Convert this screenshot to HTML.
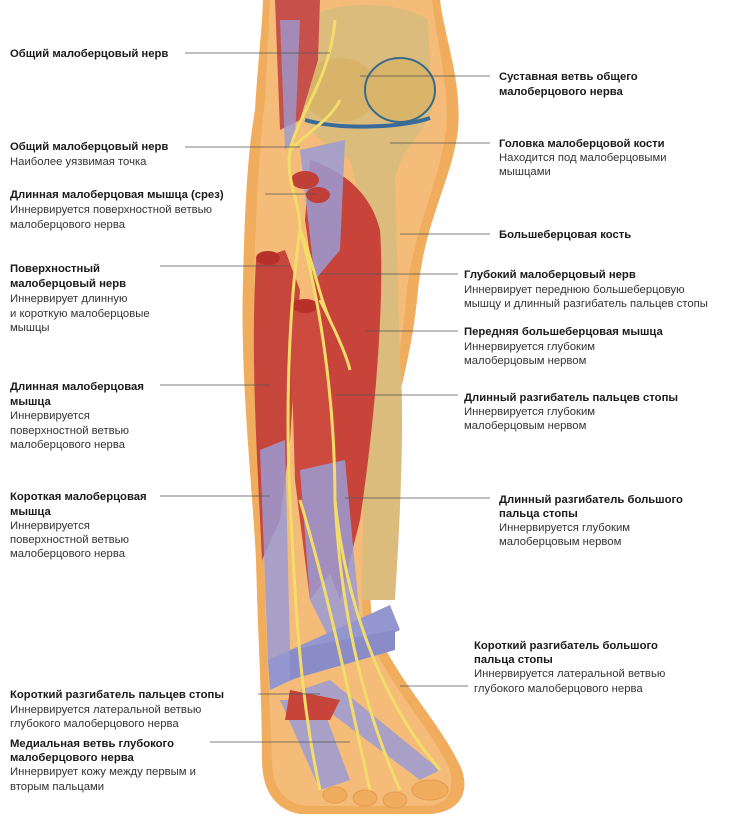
<!DOCTYPE html>
<html><head><meta charset="utf-8"><style>
html,body{margin:0;padding:0;background:#fff;}
svg{display:block;}
text{font-family:"Liberation Sans",sans-serif;font-size:11.3px;fill:#333;}
.b{font-weight:bold;fill:#1a1a1a;}
line{stroke:#555;stroke-width:0.8;}
</style></head><body>
<svg width="730" height="828" viewBox="0 0 730 828" xmlns="http://www.w3.org/2000/svg">
<!-- skin -->
<path d="M263,0 L440,0 C445,40 462,80 458,130 C452,180 425,220 418,290 C412,360 392,420 378,480 C370,540 368,580 372,620 C395,680 440,720 462,770 C470,795 458,812 430,814 L300,814 C275,810 262,790 262,760 C262,700 258,640 256,560 C252,480 240,380 243,280 C245,200 248,150 255,110 C258,60 262,30 263,0 Z" fill="#f0ad5e"/>
<path d="M270,0 L432,0 C438,50 450,90 446,130 C438,190 412,230 406,300 C400,370 382,430 370,490 C362,550 360,590 364,625 C390,690 430,725 450,770 C455,795 445,805 425,806 L305,806 C282,802 272,785 272,760 C270,700 266,640 264,560 C260,470 252,380 254,280 C256,200 260,140 265,100 Z" fill="#f4bc78"/>
<!-- bones -->
<path d="M305,20 C330,0 400,0 428,20 L432,110 C420,140 400,150 395,180 L400,360 C405,420 400,520 395,600 L362,600 L365,360 C362,250 360,190 350,160 C320,140 300,130 300,90 Z" fill="#dcbc7c"/>
<ellipse cx="340" cy="90" rx="38" ry="32" fill="#d8b36a"/>
<ellipse cx="400" cy="90" rx="35" ry="32" fill="#d9b56c" stroke="#3a6a8a" stroke-width="2"/>
<path d="M305,120 C340,130 400,128 430,118" stroke="#3a6a9a" stroke-width="4" fill="none"/>
<!-- top muscles -->
<path d="M275,0 L320,0 L318,60 L300,120 L280,130 Z" fill="#c8504a"/>
<path d="M280,20 L300,20 L295,140 L285,150 Z" fill="#9a9ad0" opacity="0.8"/>
<!-- tibialis anterior -->
<path d="M310,160 C340,170 370,190 380,230 C385,300 375,420 360,520 L340,600 L325,560 C330,450 320,320 305,220 Z" fill="#c8443a"/>
<path d="M300,150 L345,140 L340,250 L315,280 Z" fill="#9a9bd4" opacity="0.85"/>
<!-- peroneus longus -->
<path d="M256,260 L285,250 L300,290 L290,440 L280,520 L262,560 C258,470 250,360 256,260 Z" fill="#c6463c"/>
<ellipse cx="268" cy="258" rx="12" ry="7" fill="#b8302a"/>
<path d="M260,450 L285,440 L290,650 L268,660 Z" fill="#9a9bd4" opacity="0.85"/>
<!-- extensor muscles -->
<path d="M290,310 L320,300 L335,420 L340,560 L310,600 L295,480 Z" fill="#cc4a3e"/>
<ellipse cx="305" cy="306" rx="13" ry="7" fill="#b8302a"/>
<path d="M300,470 L345,460 L360,620 L330,640 L310,600 Z" fill="#9a9bd4" opacity="0.85"/>
<!-- cut muscles -->
<ellipse cx="305" cy="180" rx="14" ry="9" fill="#c04038"/>
<ellipse cx="318" cy="195" rx="12" ry="8" fill="#c04038"/>
<!-- retinaculum -->
<path d="M268,660 L390,605 L400,630 L270,690 Z" fill="#9496d0"/>
<path d="M290,650 L395,630 L395,650 L290,680 Z" fill="#8a8cc8"/>
<!-- foot tendons -->
<path d="M300,690 L330,680 L440,770 L420,780 Z" fill="#9a9bd4" opacity="0.85"/>
<path d="M280,700 L320,700 L350,780 L320,790 Z" fill="#9a9bd4" opacity="0.85"/>
<path d="M290,690 L340,700 L330,720 L285,720 Z" fill="#c8443a"/>
<!-- toes -->
<ellipse cx="335" cy="795" rx="12" ry="8" fill="#f0ad5e" stroke="#e59a50"/>
<ellipse cx="365" cy="798" rx="12" ry="8" fill="#f0ad5e" stroke="#e59a50"/>
<ellipse cx="395" cy="800" rx="12" ry="8" fill="#f0ad5e" stroke="#e59a50"/>
<ellipse cx="430" cy="790" rx="18" ry="10" fill="#f0ad5e" stroke="#e59a50"/>
<!-- nerves -->
<g stroke="#f2dc6a" stroke-width="3" fill="none">
<path d="M335,20 C330,80 300,110 290,150 C285,180 300,200 300,230 C290,300 285,400 290,500 C295,600 300,700 320,790"/>
<path d="M300,230 C320,300 335,400 335,500 C345,600 380,700 440,770"/>
<path d="M300,230 C310,250 320,300 330,320"/>
<path d="M290,150 C310,130 330,120 340,100"/>
<path d="M320,300 C330,320 345,350 350,370"/>
<path d="M300,500 C330,600 350,700 370,790"/>
<path d="M335,500 C340,600 360,700 400,790"/>
</g>
<!-- leader lines -->
<line x1="185" y1="53" x2="330" y2="53"/>
<line x1="185" y1="147" x2="300" y2="147"/>
<line x1="265" y1="194" x2="315" y2="194"/>
<line x1="160" y1="266" x2="290" y2="266"/>
<line x1="160" y1="385" x2="270" y2="385"/>
<line x1="160" y1="496" x2="270" y2="496"/>
<line x1="258" y1="694" x2="320" y2="694"/>
<line x1="210" y1="742" x2="350" y2="742"/>
<line x1="360" y1="76" x2="490" y2="76"/>
<line x1="390" y1="143" x2="490" y2="143"/>
<line x1="400" y1="234" x2="490" y2="234"/>
<line x1="320" y1="274" x2="458" y2="274"/>
<line x1="365" y1="331" x2="458" y2="331"/>
<line x1="335" y1="395" x2="458" y2="395"/>
<line x1="345" y1="498" x2="490" y2="498"/>
<line x1="400" y1="686" x2="468" y2="686"/>
<!-- left labels -->
<text x="10" y="57" class="b">Общий малоберцовый нерв</text>
<text x="10" y="150" class="b">Общий малоберцовый нерв</text>
<text x="10" y="165">Наиболее уязвимая точка</text>
<text x="10" y="198" class="b">Длинная малоберцовая мышца (срез)</text>
<text x="10" y="213">Иннервируется поверхностной ветвью</text>
<text x="10" y="228">малоберцового нерва</text>
<text x="10" y="272" class="b">Поверхностный</text>
<text x="10" y="287" class="b">малоберцовый нерв</text>
<text x="10" y="302">Иннервирует длинную</text>
<text x="10" y="317">и короткую малоберцовые</text>
<text x="10" y="331">мышцы</text>
<text x="10" y="390" class="b">Длинная малоберцовая</text>
<text x="10" y="405" class="b">мышца</text>
<text x="10" y="419">Иннервируется</text>
<text x="10" y="434">поверхностной ветвью</text>
<text x="10" y="448">малоберцового нерва</text>
<text x="10" y="500" class="b">Короткая малоберцовая</text>
<text x="10" y="515" class="b">мышца</text>
<text x="10" y="529">Иннервируется</text>
<text x="10" y="543">поверхностной ветвью</text>
<text x="10" y="557">малоберцового нерва</text>
<text x="10" y="698" class="b">Короткий разгибатель пальцев стопы</text>
<text x="10" y="713">Иннервируется латеральной ветвью</text>
<text x="10" y="727">глубокого малоберцового нерва</text>
<text x="10" y="747" class="b">Медиальная ветвь глубокого</text>
<text x="10" y="761" class="b">малоберцового нерва</text>
<text x="10" y="775">Иннервирует кожу между первым и</text>
<text x="10" y="790">вторым пальцами</text>
<!-- right labels -->
<text x="499" y="80" class="b">Суставная ветвь общего</text>
<text x="499" y="95" class="b">малоберцового нерва</text>
<text x="499" y="147" class="b">Головка малоберцовой кости</text>
<text x="499" y="161">Находится под малоберцовыми</text>
<text x="499" y="175">мышцами</text>
<text x="499" y="238" class="b">Большеберцовая кость</text>
<text x="464" y="278" class="b">Глубокий малоберцовый нерв</text>
<text x="464" y="293">Иннервирует переднюю большеберцовую</text>
<text x="464" y="307">мышцу и длинный разгибатель пальцев стопы</text>
<text x="464" y="335" class="b">Передняя большеберцовая мышца</text>
<text x="464" y="350">Иннервируется глубоким</text>
<text x="464" y="364">малоберцовым нервом</text>
<text x="464" y="401" class="b">Длинный разгибатель пальцев стопы</text>
<text x="464" y="415">Иннервируется глубоким</text>
<text x="464" y="429">малоберцовым нервом</text>
<text x="499" y="503" class="b">Длинный разгибатель большого</text>
<text x="499" y="517" class="b">пальца стопы</text>
<text x="499" y="531">Иннервируется глубоким</text>
<text x="499" y="545">малоберцовым нервом</text>
<text x="474" y="649" class="b">Короткий разгибатель большого</text>
<text x="474" y="663" class="b">пальца стопы</text>
<text x="474" y="677">Иннервируется латеральной ветвью</text>
<text x="474" y="692">глубокого малоберцового нерва</text>
</svg>
</body></html>
